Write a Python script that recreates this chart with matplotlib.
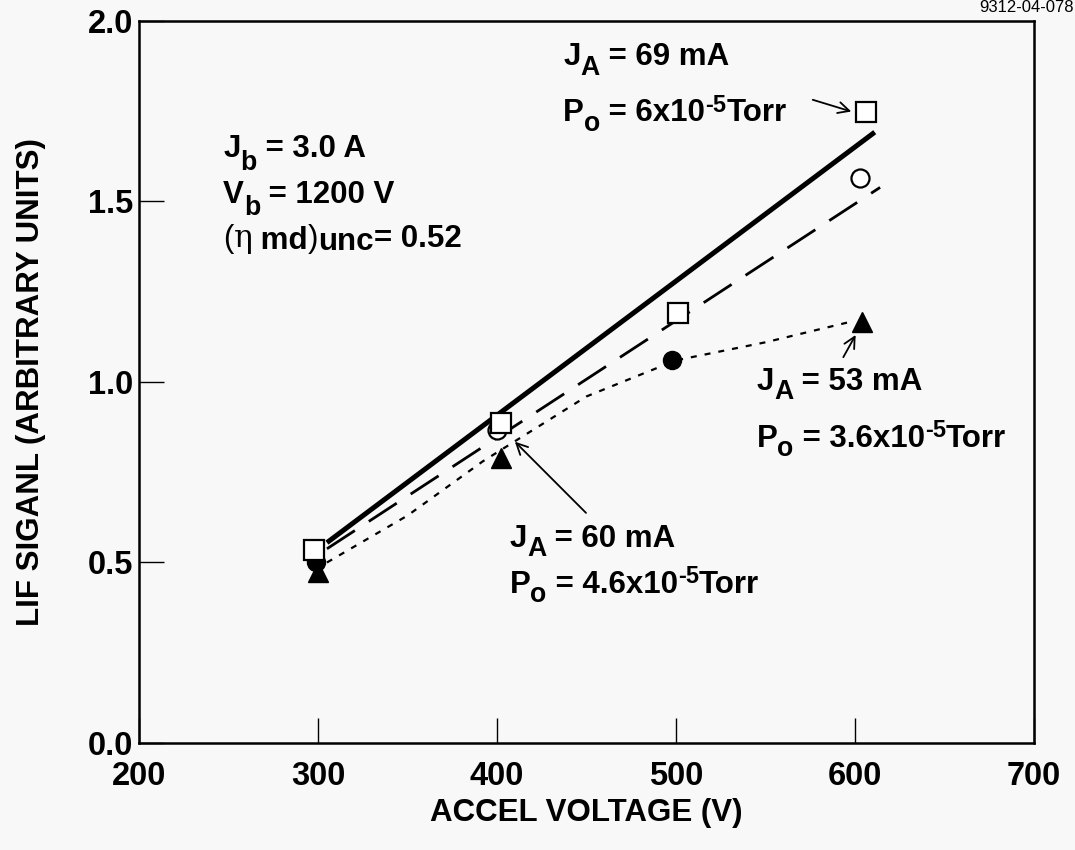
import numpy as np
import matplotlib
matplotlib.use("Agg")
import matplotlib.pyplot as plt

plt.rcParams['font.family'] = ['Liberation Sans', 'DejaVu Sans']

# measured points
sq_x = [298, 402, 501, 606]           # J_A = 69 mA (open squares)
sq_y = [0.535, 0.887, 1.19, 1.747]
oc_x = [400, 603]                     # J_A = 60 mA (open circles)
oc_y = [0.868, 1.564]
fc_x = [299, 498]                     # filled circles
fc_y = [0.50, 1.062]
tri_x = [300, 402, 604]               # J_A = 53 mA (filled triangles)
tri_y = [0.474, 0.79, 1.167]

# hand-drawn curves
solid_x = [305, 611]
solid_y = [0.555, 1.692]
dash_x = [305, 614]
dash_y = [0.538, 1.539]
dot_x = [305, 350, 392, 450, 500, 550, 596]
dot_y = [0.50, 0.63, 0.78, 0.96, 1.06, 1.11, 1.165]

x_ticks = [200, 300, 400, 500, 600, 700]
y_ticks = [0.0, 0.5, 1.0, 1.5, 2.0]

bg = '#f8f8f8'
fig = plt.figure(figsize=(10.75, 8.5), dpi=100, facecolor=bg)
ax = fig.add_axes([0.1293, 0.1259, 0.8326, 0.8494], facecolor=bg)
renderer = fig.canvas.get_renderer()


def rich(x, y, parts, size):
    # draw text pieces one after another, each with its own size and shift
    dx = 0.0
    for p in parts:
        s, scale, shift = p[:3]
        weight = p[3] if len(p) > 3 else 'bold'
        family = p[4] if len(p) > 4 else None
        t = ax.annotate(s, xy=(x, y), xytext=(dx, shift * size),
                        textcoords='offset points', fontsize=size * scale,
                        fontweight=weight, va='baseline', ha='left')
        if family:
            t.set_family(family)
        dx += t.get_window_extent(renderer).width * 72 / fig.dpi


ax.plot(solid_x, solid_y, color='black', lw=3.6, solid_capstyle='butt', zorder=2)
ax.plot(dash_x, dash_y, color='black', lw=2.0, dashes=(12, 6), zorder=2)
ax.plot(dot_x, dot_y, color='black', lw=1.6, dashes=(2.7, 3.6), zorder=2)

ax.plot(tri_x, tri_y, '^', color='black', ms=15, zorder=3)
ax.plot(fc_x, fc_y, 'o', color='black', ms=13, zorder=3)
ax.plot(oc_x, oc_y, 'o', mfc='white', mec='black', mew=1.6, ms=13, zorder=4)
ax.plot(sq_x, sq_y, 's', mfc='white', mec='black', mew=1.6, ms=15, zorder=4)

ax.set_xlim(200, 700)
ax.set_ylim(0, 2.0)
ax.set_xticks(x_ticks)
ax.set_yticks(y_ticks)
ax.set_xticklabels([str(v) for v in x_ticks])
ax.set_yticklabels([f'{v:.1f}' for v in y_ticks])
ax.tick_params(direction='in', length=18, width=1, labelsize=23.5)
ax.tick_params(axis='x', pad=13)
ax.tick_params(axis='y', pad=4)
for lab in ax.get_xticklabels() + ax.get_yticklabels():
    lab.set_fontweight('bold')
for s in ax.spines.values():
    s.set_linewidth(1.8)

ax.set_xlabel('ACCEL VOLTAGE (V)', fontsize=22.5, fontweight='bold', labelpad=4)
ax.set_ylabel('LIF SIGANL (ARBITRARY UNITS)', fontsize=22.5, fontweight='bold', labelpad=30)

# beam conditions
rich(247, 1.622, [('J', 1, 0), ('b', 0.85, -0.4), (' = 3.0 A', 1, 0)], 22.5)
rich(247, 1.497, [('V', 1, 0), ('b', 0.85, -0.4), (' = 1200 V', 1, 0)], 22.5)
rich(247, 1.373, [('(', 1, 0, 'normal'), ('η', 1, 0, 'normal', 'DejaVu Serif'),
                  (' md', 1, -0.05), (')', 1, 0, 'normal'), ('unc', 1, -0.08),
                  ('= 0.52', 1, 0.02)], 22.5)

sub = [0.85, -0.3]
sup = [0.75, 0.3]
rich(437, 1.877, [('J', 1, 0), ('A', *sub), (' = 69 mA', 1, 0)], 22.5)
rich(437, 1.722, [('P', 1, 0), ('o', *sub), (' = 6x10', 1, 0), ('-5', *sup),
                  ('Torr', 1, 0)], 22.5)
rich(545, 0.979, [('J', 1, 0), ('A', *sub), (' = 53 mA', 1, 0)], 22.5)
rich(545, 0.821, [('P', 1, 0), ('o', *sub), (' = 3.6x10', 1, 0), ('-5', *sup),
                  ('Torr', 1, 0)], 22.5)
rich(407, 0.544, [('J', 1, 0), ('A', *sub), (' = 60 mA', 1, 0)], 22.5)
rich(407, 0.416, [('P', 1, 0), ('o', *sub), (' = 4.6x10', 1, 0), ('-5', *sup),
                  ('Torr', 1, 0)], 22.5)

arr = dict(arrowstyle='->', color='black', lw=1.3, mutation_scale=20)
ax.annotate('', xy=(599.4, 1.747), xytext=(574.9, 1.784), arrowprops=arr)
ax.annotate('', xy=(601.1, 1.137), xytext=(592.7, 1.062), arrowprops=arr)
ax.annotate('', xy=(408.9, 0.840), xytext=(450.8, 0.632), arrowprops=arr)

fig.text(0.955, 1.0, '9312-04-078', fontsize=12, ha='center', va='top')

fig.savefig('out.png', dpi=100, facecolor=bg)
